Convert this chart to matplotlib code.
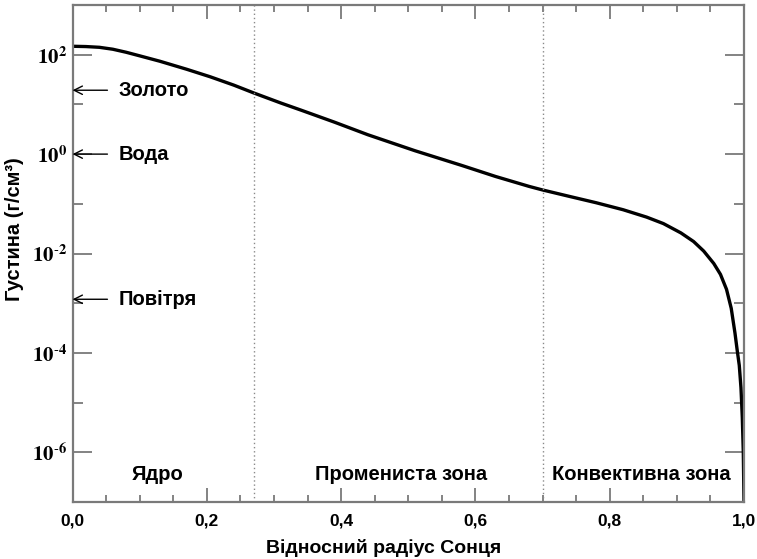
import matplotlib
matplotlib.use("Agg")
import matplotlib.pyplot as plt
from matplotlib.ticker import FixedLocator, MultipleLocator

# Solar density profile (relative radius vs density, g/cm^3)
radius = [0.0, 0.02, 0.04, 0.06, 0.08, 0.10, 0.13, 0.17, 0.205, 0.24,
          0.27, 0.31, 0.34, 0.39, 0.44, 0.51, 0.58, 0.63, 0.68, 0.70,
          0.74, 0.78, 0.82, 0.855, 0.88, 0.906, 0.925, 0.94, 0.955,
          0.965, 0.974, 0.981, 0.9866, 0.99, 0.993, 0.9955, 0.9975,
          0.999, 1.0]
density = [148, 146, 141, 129, 112, 95, 74, 51, 36, 24.5,
           17, 10.7, 7.7, 4.4, 2.45, 1.17, 0.59, 0.355, 0.224, 0.19,
           0.141, 0.105, 0.076, 0.054, 0.040, 0.026, 0.0174, 0.0112, 0.0063,
           0.0038, 0.0019, 7.9e-4, 2.5e-4, 1.1e-4, 5.6e-5, 2.0e-5, 5.0e-6,
           1.0e-6, 1.1e-7]

zone_bounds = [0.27, 0.70]
zone_names = ["Ядро", "Промениста зона", "Конвективна зона"]
zone_x = [0.127, 0.489, 0.847]

ref_names = ["Золото", "Вода", "Повітря"]
ref_density = [19.3, 1.0, 1.2e-3]

x_ticks = [0.0, 0.2, 0.4, 0.6, 0.8, 1.0]
x_labels = ["0,0", "0,2", "0,4", "0,6", "0,8", "1,0"]
y_exponents = [-6, -4, -2, 0, 2]

plt.rcParams["mathtext.fontset"] = "stix"
sans = ["Liberation Sans", "DejaVu Sans"]
spine_c = "#7a7a7a"


def power_label(e):
    if e < 0:
        return r"$\mathbf{10}^{\text{-}\mathbf{%d}}$" % (-e)
    return r"$\mathbf{10}^{\mathbf{%d}}$" % e


fig = plt.figure(figsize=(7.57, 5.59), dpi=100)
ax = fig.add_axes([0.0958, 0.102, 0.887, 0.889])

ax.plot(radius, density, color="black", lw=2.4, solid_joinstyle="round")
ax.set_yscale("log")
ax.set_xlim(0, 1)
ax.set_ylim(1e-7, 1e3)

for b in zone_bounds:
    ax.axvline(b, color="#8a8a8a", ls=(0, (1, 2)), lw=1.0)

for name, xc in zip(zone_names, zone_x):
    ax.text(xc, 10 ** -6.45, name, ha="center", va="center",
            fontsize=14.5, fontweight="bold", family=sans)

for name, d in zip(ref_names, ref_density):
    ax.annotate("", xy=(0.0, d), xytext=(0.052, d),
                arrowprops=dict(arrowstyle="->", lw=1.0, color="black",
                                shrinkA=0, shrinkB=0, mutation_scale=15))
    ax.text(0.068, d, name, ha="left", va="center",
            fontsize=14.5, fontweight="bold", family=sans)

# x axis ticks
ax.xaxis.set_major_locator(FixedLocator(x_ticks))
ax.set_xticklabels(x_labels, fontsize=12.5, fontweight="bold", family=sans)
ax.xaxis.set_minor_locator(MultipleLocator(0.05))

# y axis ticks: labelled every two decades, minor at the odd ones
ax.yaxis.set_major_locator(FixedLocator([10.0 ** e for e in y_exponents]))
ax.set_yticklabels([power_label(e) for e in y_exponents], fontsize=15)
ax.yaxis.set_minor_locator(FixedLocator([10.0 ** e for e in range(-7, 4, 2)]))
ax.yaxis.set_minor_formatter(plt.NullFormatter())

ax.tick_params(axis="both", which="both", direction="in", top=True,
               right=True, color=spine_c, width=1.3)
ax.tick_params(axis="y", which="major", length=14, pad=4)
ax.tick_params(axis="y", which="minor", length=7)
ax.tick_params(axis="x", which="major", length=10, pad=8)
ax.tick_params(axis="x", which="minor", length=5)

for s in ax.spines.values():
    s.set_color(spine_c)
    s.set_linewidth(1.6)

ax.set_xlabel("Відносний радіус Сонця", fontsize=14, fontweight="bold",
              family=sans, va="center")
ax.xaxis.set_label_coords(0.464, -0.093)
ax.set_ylabel("Густина (г/см³)", fontsize=14.5, fontweight="bold",
              family=sans, va="center")
ax.yaxis.set_label_coords(-0.086, 0.55)

fig.savefig("out.png", dpi=100)
